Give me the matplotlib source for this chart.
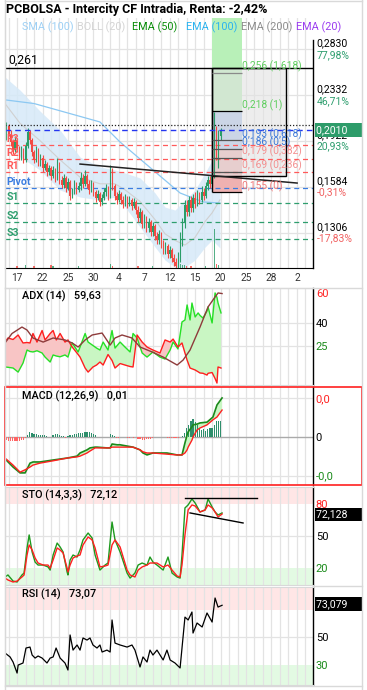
import numpy as np
import matplotlib
matplotlib.use("Agg")
import matplotlib.pyplot as plt
from matplotlib.patches import Rectangle
from matplotlib.lines import Line2D
from matplotlib.ticker import NullLocator

plt.rcParams['font.family'] = ['Roboto', 'DejaVu Sans']

# ---------------- data ----------------
title = 'PCBOLSA - Intercity CF Intradia, Renta: -2,42%'
dates = ['17', '22', '25', '30', '4', '7', '12', '15', '20', '25', '28', '2']
date_pos = [6, 18, 30, 42, 54, 66, 78, 90, 102, 114, 126, 138]   # bar index of each day label

opens = [0.1946, 0.2046, 0.1978, 0.1913, 0.1850, 0.1929, 0.1866, 0.1804, 0.1850, 0.1774,
         0.1881, 0.1995, 0.1929, 0.1835, 0.1774, 0.1850, 0.1752, 0.1789, 0.1716, 0.1745,
         0.1687, 0.1716, 0.1659, 0.1701, 0.1645, 0.1745, 0.1631, 0.1597, 0.1645, 0.1577,
         0.1618, 0.1524, 0.1550, 0.1604, 0.1563, 0.1591, 0.1645, 0.1604, 0.1659, 0.1604,
         0.1563, 0.1604, 0.1550, 0.1512, 0.1537, 0.1486, 0.1512, 0.1550, 0.1577, 0.1524,
         0.1687, 0.1591, 0.1524, 0.1499, 0.1537, 0.1499, 0.1474, 0.1512, 0.1474, 0.1499,
         0.1462, 0.1486, 0.1437, 0.1389, 0.1425, 0.1355, 0.1389, 0.1332, 0.1366, 0.1310,
         0.1343, 0.1288, 0.1267, 0.1299, 0.1246, 0.1214, 0.1235, 0.1194, 0.1214, 0.1174,
         0.1154, 0.1135, 0.1184, 0.1278, 0.1366, 0.1468, 0.1425, 0.1499, 0.1449, 0.1512,
         0.1474, 0.1524, 0.1499, 0.1550, 0.1524, 0.1591, 0.1631, 0.1604, 0.1659, 0.1929,
         0.1850, 0.1962]
closes = [0.2046, 0.1978, 0.1913, 0.1850, 0.1929, 0.1866, 0.1804, 0.1850, 0.1774, 0.1881,
          0.1995, 0.1929, 0.1835, 0.1774, 0.1850, 0.1752, 0.1789, 0.1716, 0.1745, 0.1687,
          0.1716, 0.1659, 0.1701, 0.1645, 0.1745, 0.1631, 0.1597, 0.1645, 0.1577, 0.1618,
          0.1524, 0.1550, 0.1604, 0.1563, 0.1591, 0.1645, 0.1604, 0.1659, 0.1604, 0.1563,
          0.1604, 0.1550, 0.1512, 0.1537, 0.1486, 0.1512, 0.1550, 0.1577, 0.1524, 0.1687,
          0.1591, 0.1524, 0.1499, 0.1537, 0.1499, 0.1474, 0.1512, 0.1474, 0.1499, 0.1462,
          0.1486, 0.1437, 0.1389, 0.1425, 0.1355, 0.1389, 0.1332, 0.1366, 0.1310, 0.1343,
          0.1288, 0.1267, 0.1299, 0.1246, 0.1214, 0.1235, 0.1194, 0.1214, 0.1174, 0.1154,
          0.1135, 0.1184, 0.1278, 0.1366, 0.1468, 0.1425, 0.1499, 0.1449, 0.1512, 0.1474,
          0.1524, 0.1499, 0.1550, 0.1524, 0.1591, 0.1631, 0.1604, 0.1659, 0.1929, 0.1850,
          0.1962, 0.2012]
highs = [0.2081, 0.2064, 0.2012, 0.1929, 0.1962, 0.1946, 0.1881, 0.1881, 0.1866, 0.1913,
         0.2029, 0.2012, 0.1946, 0.1850, 0.1881, 0.1866, 0.1820, 0.1811, 0.1774, 0.1759,
         0.1737, 0.1730, 0.1730, 0.1716, 0.1789, 0.1759, 0.1659, 0.1673, 0.1659, 0.1645,
         0.1631, 0.1577, 0.1631, 0.1618, 0.1618, 0.1687, 0.1673, 0.1701, 0.1673, 0.1631,
         0.1631, 0.1618, 0.1563, 0.1563, 0.1550, 0.1537, 0.1577, 0.1604, 0.1591, 0.1737,
         0.1716, 0.1604, 0.1550, 0.1563, 0.1550, 0.1524, 0.1537, 0.1524, 0.1524, 0.1512,
         0.1512, 0.1499, 0.1462, 0.1449, 0.1437, 0.1413, 0.1401, 0.1389, 0.1378, 0.1366,
         0.1355, 0.1310, 0.1321, 0.1310, 0.1267, 0.1256, 0.1246, 0.1235, 0.1225, 0.1194,
         0.1174, 0.1204, 0.1310, 0.1389, 0.1499, 0.1499, 0.1524, 0.1524, 0.1537, 0.1550,
         0.1563, 0.1550, 0.1591, 0.1577, 0.1618, 0.1659, 0.1659, 0.1687, 0.2171, 0.2046,
         0.2012, 0.2029]
lows = [0.1929, 0.1962, 0.1881, 0.1820, 0.1835, 0.1835, 0.1774, 0.1774, 0.1752, 0.1759,
        0.1866, 0.1897, 0.1804, 0.1752, 0.1759, 0.1730, 0.1730, 0.1687, 0.1701, 0.1659,
        0.1665, 0.1631, 0.1645, 0.1618, 0.1631, 0.1604, 0.1577, 0.1577, 0.1550, 0.1563,
        0.1499, 0.1512, 0.1537, 0.1537, 0.1550, 0.1563, 0.1577, 0.1591, 0.1577, 0.1537,
        0.1550, 0.1524, 0.1486, 0.1499, 0.1462, 0.1468, 0.1499, 0.1524, 0.1499, 0.1512,
        0.1563, 0.1499, 0.1474, 0.1486, 0.1474, 0.1449, 0.1462, 0.1449, 0.1462, 0.1437,
        0.1449, 0.1413, 0.1366, 0.1366, 0.1332, 0.1332, 0.1310, 0.1310, 0.1288, 0.1288,
        0.1267, 0.1246, 0.1246, 0.1225, 0.1194, 0.1194, 0.1174, 0.1174, 0.1154, 0.1135,
        0.1115, 0.1115, 0.1154, 0.1235, 0.1332, 0.1401, 0.1401, 0.1425, 0.1425, 0.1449,
        0.1462, 0.1474, 0.1486, 0.1499, 0.1512, 0.1563, 0.1577, 0.1591, 0.1645, 0.1774,
        0.1716, 0.1929]

vol_bars = [6, 10, 14, 22, 23, 35, 50, 51, 63, 70, 83, 84, 85, 86, 88, 95, 99, 100, 101]
vol_vals = [1.0, 1.5, 1.0, 1.5, 1.0, 1.0, 2.0, 1.0, 1.0, 1.0, 2.0, 1.5, 1.5, 1.0, 1.0, 1.0, 18.0, 2.0, 1.5]

boll_x = [0.3, 7.4, 16.8, 26.3, 35.7, 45.1, 52.2, 56.9, 64.0, 71.1, 75.8, 80.5, 85.2, 89.9, 94.7, 98.0, 101.7]
boll_up = [0.2515, 0.2381, 0.2180, 0.2012, 0.1796, 0.1723, 0.1701, 0.1680, 0.1645, 0.1544, 0.1455, 0.1437,
           0.1499, 0.1563, 0.1680, 0.1774, 0.1929]
boll_lo = [0.2012, 0.1797, 0.1701, 0.1563, 0.1518, 0.1499, 0.1518, 0.1456, 0.1338, 0.1230, 0.1164, 0.1130,
           0.1130, 0.1164, 0.1230, 0.1267, 0.1225]
boll_mid = [0.2250, 0.2070, 0.1925, 0.1775, 0.1650, 0.1605, 0.1605, 0.1565, 0.1490, 0.1380, 0.1300, 0.1265,
            0.1240, 0.1280, 0.1370, 0.1420, 0.1500]

sma_x = [0.3, 14.0, 45.1, 54.6, 70.1, 82.9, 93.7, 101.7]
sma = [0.2285, 0.2250, 0.2082, 0.1913, 0.1701, 0.1544, 0.1487, 0.1480]

pivot_names = ['R3', 'R2', 'R1', 'Pivot', 'S1', 'S2', 'S3']
pivot_levels = [0.1889, 0.1781, 0.1686, 0.1577, 0.1480, 0.1366, 0.1272]
last_price = 0.2010
prev_high_dotted = 0.2055
level_0261 = 0.261

fib_levels = [0.256, 0.218, 0.193, 0.186, 0.179, 0.169, 0.155]
fib_labels = ['0,256 (1,618)', '0,218 (1)', '0,193 (0,618)', '0,186 (0,5)',
              '0,179 (0,382)', '0,169 (0,236)', '0,155 (0)']
fib_start, fib_end, box_end, box_low = 98.0, 112.1, 132.9, 0.1658

trend_x = [35.7, 138.1]
trend_y = [0.1744, 0.1610]

price_ticks = [0.2830, 0.2332, 0.1922, 0.1584, 0.1306]
price_tick_txt = ['0,2830', '0,2332', '0,1922', '0,1584', '0,1306']
pct_txt = ['77,98%', '46,71%', '20,93%', '-0,31%', '-17,83%']

di_x = [0.3, 1.7, 4.1, 6.5, 8.8, 10.7, 12.1, 13.5, 15.4, 17.8, 19.2, 21.6, 23.0, 24.5, 26.3, 28.6, 30.0,
        32.0, 34.8, 35.7, 38.1, 39.5, 41.8, 43.5, 45.1, 46.6, 48.9, 50.8, 52.2, 54.6, 56.9, 59.3, 60.7,
        62.6, 65.0, 67.3, 70.1, 73.4, 75.8, 78.2, 79.6, 81.9, 83.8, 85.2, 86.2, 87.6, 88.5, 90.0, 91.4,
        92.3, 93.7, 95.6, 96.1, 98.0, 99.4, 100.3, 100.8, 102.2]
di_minus = [27.3, 30, 29, 32, 26.7, 27, 26.7, 33, 27.3, 35, 28.7, 33, 35, 28.7, 33, 27.3, 28.7,
            24, 19, 17.3, 10, 7.3, 10.7, 12, 14, 12, 19, 15, 10, 13, 12, 11, 10.7,
            32, 27.3, 24, 22, 20, 28.7, 27.3, 29.3, 24, 26.7, 20, 15.3, 10, 9.5, 8.7, 7.5,
            6.7, 6.5, 5.3, 6.5, 7, 3, 0, 10.7, 10]
di_plus = [10.7, 10.5, 10, 7.3, 13.3, 22, 21, 20.7, 21.5, 20, 17.3, 14, 18.7, 18, 17.5, 18.7, 17.3,
           26.7, 20.7, 24, 33, 27.3, 25, 23.3, 22, 27.3, 22, 35, 23.3, 27.3, 24, 20.7, 33,
           30, 20, 17.3, 20.7, 17.3, 16, 22, 27.3, 22.7, 40.7, 42, 52, 42, 53.3, 44, 46.7,
           45, 43.3, 48, 50.7, 40, 60, 57, 53.3, 46.7]
adx_x = [0.3, 3.6, 8.3, 10.7, 13.5, 18.3, 23.0, 28.6, 32.0, 34.8, 38.1, 41.4, 46.1, 49.9, 52.2, 55.5,
         60.2, 64.0, 69.7, 74.9, 81.5, 84.3, 87.6, 92.3, 96.1, 99.4, 100.8, 102.7]
adx = [26.7, 33, 37.3, 35.3, 30, 27.3, 30, 28.7, 26.7, 24, 28.7, 32, 33.3, 25.3, 30, 32,
       30, 24, 20.7, 17.3, 12, 15.3, 22, 37.3, 50.7, 57.3, 60, 59.6]

macd_x = [0.3, 4.1, 7.4, 9.8, 12.1, 13.5, 16.8, 23.0, 29.6, 34.3, 35.7, 39.0, 40.4, 42.8, 43.7, 48.4,
          49.9, 50.8, 53.2, 54.6, 60.7, 64.0, 65.4, 67.3, 70.1, 76.7, 81.5, 83.8, 85.2, 86.2, 86.7,
          88.5, 89.0, 90.9, 92.3, 95.6, 98.4, 100.3, 102.7]
macd = [-0.0056, -0.0077, -0.0092, -0.0092, -0.0067, -0.0064, -0.0064, -0.0059, -0.0054, -0.0049,
        -0.0041, -0.0033, -0.0028, -0.0026, -0.0026, -0.0028, -0.0028, -0.0018, -0.0020, -0.0020,
        -0.0026, -0.0033, -0.0041, -0.0046, -0.0041, -0.0041, -0.0046, -0.0046, -0.0015, 0.0005,
        0.0013, 0.0026, 0.0031, 0.0033, 0.0036, 0.0038, 0.0051, 0.0082, 0.0100]
signal = [-0.0054, -0.0072, -0.0090, -0.0084, -0.0077, -0.0072, -0.0067, -0.0061, -0.0054, -0.0051,
          -0.0049, -0.0041, -0.0036, -0.0028, -0.0028, -0.0028, -0.0028, -0.0026, -0.0026, -0.0026,
          -0.0026, -0.0033, -0.0038, -0.0041, -0.0041, -0.0044, -0.0046, -0.0046, -0.0041, -0.0033,
          -0.0026, -0.0008, 0.0000, 0.0018, 0.0023, 0.0031, 0.0044, 0.0051, 0.0069]
# histogram, units of 1e-4, one value per bar 1..102
hist = [-8, -10, -11, -11, -11, -10, -10, -9, -7, -3,
        5, 12, 10, 8, 7, 6, 5, 5, 4, 3,
        1, 1, 6, 8, 7, 5, 3, 2, -2, 3,
        5, 6, 7, 8, 9, 10, 11, 12, 13, 12,
        10, 7, 4, 0, 1, 1, 0, 0, 1, 8,
        5, 2, -2, -2, -1, 0, -1, -2, -2, -1,
        -2, -1, -4, -6, -7, -7, -6, -5, -4, -3,
        -1, 0, 1, 1, -1, -1, -2, -2, -3, -3,
        -3, -2, 0, 3, 10, 22, 30, 40, 45, 38,
        30, 22, 18, 20, 16, 20, 22, 24, 30, 40,
        42, 40]

sto_x = [0.3, 1.7, 4.1, 6.0, 8.3, 9.3, 10.7, 11.7, 13.1, 14.5, 15.9, 18.3, 20.6, 21.6, 23.0, 24.9,
         26.3, 27.7, 29.6, 30.0, 31.0, 32.4, 34.3, 35.7, 37.1, 39.5, 41.4, 42.8, 45.1, 47.5, 48.9,
         50.8, 52.2, 54.6, 57.9, 59.3, 61.6, 63.1, 65.0, 67.3, 68.7, 70.1, 72.0, 74.9, 77.2, 79.1,
         81.5, 82.9, 83.8, 85.2, 86.7, 88.5, 90.0, 92.3, 94.7, 96.1, 98.0, 99.4, 100.8, 102.7]
sto_k = [11.6, 13.5, 7.8, 6.9, 13.5, 15.3, 38.8, 51, 35, 25.6, 22.8, 22.8, 21, 18.1, 32.2, 43.4,
         39.7, 35, 16.3, 13.5, 27.5, 32.2, 30.3, 36.9, 46.3, 52.8, 48.1, 32.2, 18.1, 22.8, 24.7,
         63.1, 46.3, 35, 15.3, 10.6, 15.3, 22.8, 24.7, 22.8, 30.3, 25.6, 22.8, 18.1, 30.3, 15.3,
         11.6, 10.6, 32.2, 76.3, 79.1, 84.7, 80.9, 72.5, 74.4, 84.7, 77.2, 72.5, 69.7, 71.6]
sto_d = [10.6, 8.8, 6.9, 7.8, 11.6, 13.5, 32.2, 41.6, 36.9, 29.4, 24.7, 22.8, 22.8, 19.9, 27.5, 38.8,
         36.9, 34.1, 19.9, 16.3, 22.8, 29.4, 31.3, 32.2, 41.6, 49.1, 46.3, 38.8, 21, 21.9, 22.8,
         41.6, 46.3, 39.7, 18.1, 13.5, 11.6, 18.1, 21, 22.8, 24.7, 24.7, 24.7, 21, 22.8, 18.1,
         12.5, 11.6, 22.8, 51, 74.4, 79.1, 78.1, 72.5, 74.4, 79.1, 76.3, 72.5, 67.8, 70.6]
sto_top_x, sto_top_y = [85.2, 119.2], [85.6, 85.6]
sto_low_x, sto_low_y = [87.6, 112.6], [71.6, 62.2]

rsi_x = [0.3, 2.7, 4.1, 6.0, 6.5, 8.8, 10.2, 12.1, 13.1, 14.5, 15.9, 17.8, 20.1, 21.6, 23.0, 24.4,
         26.3, 28.6, 30.0, 31.0, 32.4, 34.3, 35.7, 37.1, 39.0, 40.4, 41.8, 43.7, 45.1, 46.1, 48.4,
         49.9, 50.8, 52.2, 54.6, 57.9, 60.2, 61.6, 64.0, 65.4, 67.3, 68.7, 70.1, 72.0, 74.9, 76.7,
         78.2, 80.5, 82.9, 83.8, 85.2, 86.7, 88.5, 89.0, 90.9, 93.3, 95.6, 98.0, 99.4, 100.8, 102.7]
rsi = [38.4, 35.5, 31.8, 23.8, 29.6, 31.1, 42, 42.7, 36.9, 34.7, 36.2, 34.7, 31.1, 34.7, 35.5, 42,
       34.7, 31.1, 26, 51.5, 40.5, 44.2, 40.5, 49.3, 47.8, 49.3, 44.2, 42, 44.2, 39.1, 40.5,
       39.1, 62.4, 45.6, 44.2, 42.7, 44.2, 40.5, 28.2, 35.5, 31.8, 40.5, 36.9, 40.5, 33.3, 40.5,
       33.3, 31.1, 27.5, 42, 64.5, 62.4, 68.2, 52.9, 60.2, 57.3, 67.5, 60.9, 78.4, 71.8, 73.1]

# ---------------- layout helpers ----------------
W, H = 367, 690
fig = plt.figure(figsize=(W / 100, H / 100), dpi=100)
fig.patch.set_facecolor('white')


def rect(x0, y0, x1, y1):
    return [x0 / W, 1 - y1 / H, (x1 - x0) / W, (y1 - y0) / H]


def fig_line(x0, y0, x1, y1, **kw):
    fig.add_artist(Line2D([x0 / W, x1 / W], [1 - y0 / H, 1 - y1 / H], transform=fig.transFigure, **kw))


GRID = '#e3e3e3'
FRAME = '#d9d9d9'
XMIN, XMAX = 0.3, 145.6
grid_x = np.arange(2, 146, 4)


def base_panel(a):
    a.set_xlim(XMIN, XMAX)
    a.set_xticks([])
    for s in ['left', 'top', 'bottom']:
        a.spines[s].set_color(FRAME)
    a.spines['right'].set_color('black')
    a.spines['right'].set_linewidth(1)
    for gx in grid_x:
        a.axvline(gx, color=GRID, lw=0.9, zorder=0.5)


def right_ticks(a, vals, labels, colors, size=7.5):
    a.yaxis.tick_right()
    a.set_yticks(vals)
    a.set_yticklabels(labels)
    a.tick_params(axis='y', length=0, pad=2, labelsize=size)
    for t, c in zip(a.get_yticklabels(), colors):
        t.set_color(c)


def value_box(a, y, txt, fc, dy=0.0):
    a.annotate(txt, (1.0, y), xycoords=a.get_yaxis_transform(), xytext=(2.5, dy),
               textcoords='offset points', fontsize=7.6, color='white',
               va='center', ha='left', annotation_clip=False, zorder=10,
               bbox=dict(boxstyle='square,pad=0.18', fc=fc, ec='none'))


GREEN_TXT = '#2e9e6e'
RED_TXT = '#f06262'

# ---------------- price panel ----------------
ax = fig.add_axes(rect(5, 18, 313, 268))
base_panel(ax)
ax.set_yscale('log')
ax.set_ylim(0.1126, 0.3225)
ax.yaxis.set_major_locator(NullLocator())
ax.yaxis.set_minor_locator(NullLocator())
ax.spines['bottom'].set_color('black')
ax.spines['top'].set_visible(False)
ax.spines['right'].set_bounds(0.1126, 0.2939)
for p in price_ticks:
    ax.axhline(p, color=GRID, lw=0.9, zorder=0.5)

ax.set_xticks(date_pos)
ax.set_xticklabels(dates)
ax.tick_params(axis='x', length=0, pad=3.5, labelsize=7.3, labelcolor='#333333')

# bollinger band + sma
ax.fill_between(boll_x, boll_lo, boll_up, color='#d6e9f8', alpha=0.85, lw=0, zorder=1)
ax.plot(boll_x, boll_mid, color='#d0d0d0', lw=0.8, zorder=1.2)
ax.plot(sma_x, sma, color='#8cc8f2', lw=0.9, zorder=1.3)

# fibonacci zones
ax.fill_between([fib_start, fib_end], 0.218, 0.3225, color='#b8f0b8', lw=0, zorder=1.4)
ax.fill_between([fib_start, fib_end], 0.186, 0.218, color='#a9c4ee', lw=0, zorder=1.4)
ax.fill_between([fib_start, fib_end], 0.155, 0.186, color='#efb1b1', lw=0, zorder=1.4)
ax.add_patch(Rectangle((fib_start, box_low), box_end - fib_start, level_0261 - box_low,
                       fc='#e2e2e2', alpha=0.6, ec='none', zorder=1.6))
ax.add_patch(Rectangle((fib_start, box_low), box_end - fib_start, level_0261 - box_low,
                       fill=False, ec='black', lw=1, zorder=4))
ax.vlines(fib_start, 0.155, level_0261, color='black', lw=1, zorder=4)
fib_line_cols = ['#8a8a8a', 'black', '#555555', '#555555', '#555555', '#555555', 'black']
fib_txt_cols = ['#5fcf5f', '#5fcf5f', '#3b78d8', '#3b78d8', '#f49090', '#f49090', '#f07878']
for lv, lb, lc, tc in zip(fib_levels, fib_labels, fib_line_cols, fib_txt_cols):
    ax.hlines(lv, fib_start, fib_end, color=lc, lw=0.9, zorder=4)
    ax.annotate(lb, (fib_end, lv), xytext=(0, 0.3), textcoords='offset points',
                fontsize=7.4, color=tc, va='bottom', ha='left', zorder=6)

# horizontal levels
ax.axhline(level_0261, color='black', lw=1, zorder=4)
ax.annotate('0,261', (0.01, level_0261), xycoords=('axes fraction', 'data'), xytext=(0, 1),
            textcoords='offset points', fontsize=8.8, va='bottom', ha='left')
ax.axhline(prev_high_dotted, color='#222222', lw=0.9, ls=(0, (1, 1.5)), zorder=4)
ax.axhline(last_price, color='#2436f0', lw=1, ls=(0, (4, 3)), zorder=4)
piv_cols = ['#ff5a5a'] * 3 + ['#3b7de0'] + ['#2e9e6e'] * 3
for nm, lv, c in zip(pivot_names, pivot_levels, piv_cols):
    ax.axhline(lv, color=c, lw=0.9, ls=(0, (4, 3)), zorder=2)
    ax.annotate(nm, (0.0, lv), xycoords=('axes fraction', 'data'), xytext=(1, 0.5),
                textcoords='offset points', fontsize=7.6, weight='bold', color=c,
                va='bottom', ha='left', zorder=6)

# trend line
ax.plot(trend_x, trend_y, color='#222222', lw=1.1, zorder=4)

# candles
xs = np.arange(1, len(closes) + 1)
o = np.array(opens)
c = np.array(closes)
cols = np.where(c >= o, '#2a9d68', '#f24b43')
ax.vlines(xs, lows, highs, colors=cols, lw=0.8, zorder=3)
ax.bar(xs, c - o, bottom=o, width=0.62, color=cols, lw=0, zorder=3)

# volume
ax_v = ax.twinx()
ax_v.set_ylim(0, 115)
ax_v.axis('off')
vcols = [cols[b - 1] for b in vol_bars]
ax_v.bar(vol_bars, vol_vals, width=0.6, color=vcols, alpha=0.8, lw=0)
ax_v.set_xlim(XMIN, XMAX)

# right price scale
tr = ax.get_yaxis_transform()
for p, t, pc in zip(price_ticks, price_tick_txt, pct_txt):
    col = GREEN_TXT if not pc.startswith('-') else RED_TXT
    ax.annotate(t, (1.0, p), xycoords=tr, xytext=(2.5, 0.5), textcoords='offset points',
                fontsize=7.5, va='bottom', ha='left', annotation_clip=False)
    ax.annotate(pc, (1.0, p), xycoords=tr, xytext=(2.5, -0.5), textcoords='offset points',
                fontsize=7.5, va='top', ha='left', color=col, annotation_clip=False)
value_box(ax, last_price, '0,2010     ', '#2e9c6a')

# title and legend
fig.text(6 / W, 1 - 10 / H, title, fontsize=9.0, weight='semibold', va='center', ha='left')
legend_items = [('SMA (100)', '#9dd0f5', 22), ('BOLL (20)', '#d4d4d4', 77), ('EMA (50)', '#078c07', 132),
                ('EMA (100)', '#2ab3f0', 186), ('EMA (200)', '#8c8c8c', 241), ('EMA (20)', '#9b3cf0', 296)]
for txt, col, px in legend_items:
    fig.text(px / W, 1 - 27 / H, txt, fontsize=7.8, color=col, va='center', ha='left')

# ---------------- ADX ----------------
ax_adx = fig.add_axes(rect(5, 288, 313, 385))
base_panel(ax_adx)
ax_adx.set_ylim(-1.3, 63.3)
for gy in [25, 40]:
    ax_adx.axhline(gy, color=GRID, lw=0.9, zorder=0.5)
dp = np.array(di_plus)
dm = np.array(di_minus)
ax_adx.fill_between(di_x, dp, dm, where=dp >= dm, interpolate=True, color='#c9f6c3', lw=0, zorder=1)
ax_adx.fill_between(di_x, dp, dm, where=dp < dm, interpolate=True, color='#f8c5c5', lw=0, zorder=1)
ax_adx.plot(di_x, di_plus, color='#26e026', lw=1, zorder=3)
ax_adx.plot(di_x, di_minus, color='#ff1f1f', lw=1, zorder=3)
ax_adx.plot(adx_x, adx, color='#8e3b3b', lw=1, zorder=3)
right_ticks(ax_adx, [25, 40, 60], ['25', '40', '60'], ['#1a8a1a', 'black', '#ff2020'], 8)
fig.text(22 / W, 1 - 296 / H, 'ADX (14)   59,63', fontsize=7.8, weight='medium', va='center')

# ---------------- MACD ----------------
ax_macd = fig.add_axes(rect(5, 387, 313, 485))
base_panel(ax_macd)
for s in ['left', 'top', 'bottom']:
    ax_macd.spines[s].set_visible(False)
ax_macd.set_ylim(-0.0123, 0.0128)
ax_macd.axhline(0, color='#aaaaaa', lw=1, zorder=1)
ax_macd.axhline(-0.0099, color=GRID, lw=0.9, zorder=0.5)
ax_macd.axhline(0.0100, color=GRID, lw=0.9, zorder=0.5)
hv = np.array(hist) * 1e-4
ax_macd.bar(xs, hv, width=0.6, color=np.where(hv >= 0, '#2e8f6c', '#ff6464'), lw=0, zorder=2)
mv = np.array(macd)
sv = np.array(signal)
ax_macd.fill_between(macd_x, mv, sv, where=mv >= sv, interpolate=True, color='#c9f6c3', lw=0, zorder=1.5)
ax_macd.fill_between(macd_x, mv, sv, where=mv < sv, interpolate=True, color='#f8c5c5', lw=0, zorder=1.5)
ax_macd.plot(macd_x, macd, color='#1b8a1b', lw=1.2, zorder=3)
ax_macd.plot(macd_x, signal, color='#ff2020', lw=1, zorder=3)
right_ticks(ax_macd, [-0.0099, 0, 0.0100], ['-0,0', '0', '0,0'], ['#1a8a1a', 'black', '#ff2020'], 8)
fig.text(22 / W, 1 - 396 / H, 'MACD (12,26,9)   0,01', fontsize=7.8, weight='medium', va='center')
fig.add_artist(Rectangle((5 / W, 1 - 485 / H), 357 / W, 98 / H, transform=fig.transFigure,
                         fill=False, ec='#ff2020', lw=1.2))

# ---------------- STO ----------------
ax_sto = fig.add_axes(rect(5, 487, 313, 585))
base_panel(ax_sto)
ax_sto.set_ylim(4.1, 95.9)
ax_sto.axhspan(80, 100, color='#ffe6e6', lw=0, zorder=0.2)
ax_sto.axhspan(0, 20, color='#e3fae3', lw=0, zorder=0.2)
ax_sto.axhline(50, color=GRID, lw=0.9, zorder=0.5)
ax_sto.plot(sto_x, sto_k, color='#1e9a1e', lw=1, zorder=3)
ax_sto.plot(sto_x, sto_d, color='#ff2020', lw=1, zorder=3)
ax_sto.plot(sto_top_x, sto_top_y, color='black', lw=1, zorder=4)
ax_sto.plot(sto_low_x, sto_low_y, color='black', lw=1, zorder=4)
right_ticks(ax_sto, [20, 50, 80], ['20', '50', '80'], ['#1a8a1a', 'black', '#ff2020'], 8)
value_box(ax_sto, 72.128, '72,128     ', 'black', dy=-1.5)
fig.text(22 / W, 1 - 495 / H, 'STO (14,3,3)   72,12', fontsize=7.8, weight='medium', va='center')

# ---------------- RSI ----------------
ax_rsi = fig.add_axes(rect(5, 587, 313, 685))
base_panel(ax_rsi)
ax_rsi.set_ylim(15.1, 86.4)
ax_rsi.axhspan(70, 100, color='#ffe6e6', lw=0, zorder=0.2)
ax_rsi.axhspan(0, 30, color='#e3fae3', lw=0, zorder=0.2)
ax_rsi.axhline(50, color=GRID, lw=0.9, zorder=0.5)
ax_rsi.plot(rsi_x, rsi, color='black', lw=0.9, zorder=3)
right_ticks(ax_rsi, [30, 50], ['30', '50'], ['#1a8a1a', 'black'], 8)
value_box(ax_rsi, 73.079, '73,079     ', 'black', dy=1.0)
fig.text(22 / W, 1 - 594 / H, 'RSI (14)   73,07', fontsize=7.8, weight='medium', va='center')

# ---------------- outer frame ----------------
fig_line(362, 0, 362, 690, color=FRAME, lw=1)
fig_line(4.5, 0, 4.5, 690, color=FRAME, lw=1)
fig_line(4.5, 0.5, 362, 0.5, color=FRAME, lw=1)
fig_line(4.5, 288, 362, 288, color=FRAME, lw=1)
fig_line(313, 586, 362, 586, color=FRAME, lw=1)
fig_line(4.5, 686, 362, 686, color=FRAME, lw=1)

fig.savefig('out.png', dpi=100, facecolor='white')
